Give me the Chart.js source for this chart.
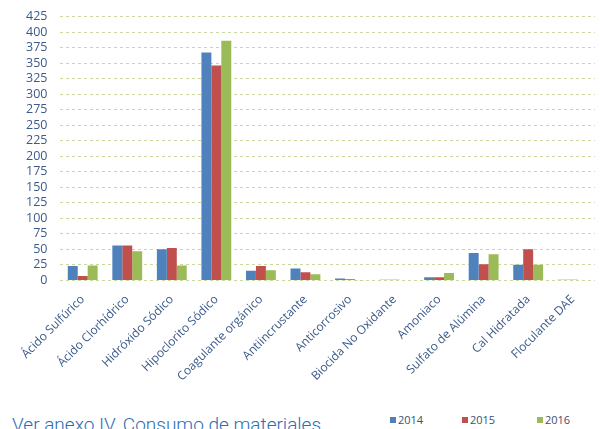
<!DOCTYPE html>
<html>
<head>
<meta charset="utf-8">
<script src="https://cdn.jsdelivr.net/npm/chart.js@4"></script>
<style>
  html, body { margin: 0; padding: 0; background: #fff; }
  #wrap { position: relative; width: 600px; height: 429px; overflow: hidden; }
  #box { position: absolute; left: 0; top: -4px; width: 600px; height: 392px; }
  #title { position: absolute; left: 12px; top: 413px; font-family: Roboto, sans-serif; font-weight: 300;
           font-size: 19px; color: #2a6db5; white-space: nowrap; }
  #legend { position: absolute; left: 0; top: 412px; font-family: "Open Sans", sans-serif; font-size: 11px; color: #3d4f6b; }
  #legend span { position: absolute; white-space: nowrap; }
  #legend i { display: inline-block; width: 6px; height: 6px; margin-right: 2px; vertical-align: 1px; }
</style>
</head>
<body>
<div id="wrap">
  <div id="box"><canvas id="myChart"></canvas></div>
  <div id="title">Ver anexo IV. Consumo de materiales</div>
  <div id="legend"></div>
</div>
<script>
var categories = ['Ácido Sulfúrico', 'Ácido Clorhídrico', 'Hidróxido Sódico', 'Hipoclorito Sódico',
  'Coagulante orgánico', 'Antiincrustante', 'Anticorrosivo', 'Biocida No Oxidante', 'Amoniaco',
  'Sulfato de Alúmina', 'Cal Hidratada', 'Floculante DAE'];
var years = ['2014', '2015', '2016'];
var values2014 = [23, 56, 50, 367, 15.5, 19, 3, 1, 5, 44, 25, 1];
var values2015 = [7, 56, 52, 346, 23, 13, 2, 1, 5, 26, 50, 1];
var values2016 = [24, 47, 24, 386, 16.5, 10, 0.4, 0.5, 12, 42, 25, 0.5];
var colors = ['#4f81bd', '#c0504d', '#9bbb59'];

var legendLeft = [390, 462, 537];
var legend = document.getElementById('legend');
years.forEach(function (y, i) {
  var s = document.createElement('span');
  s.style.left = legendLeft[i] + 'px';
  s.innerHTML = '<i style="background:' + colors[i] + '"></i>' + y;
  legend.appendChild(s);
});

var ctx = document.getElementById('myChart').getContext('2d');
var chart = new Chart(ctx, {
    type: 'bar',
    data: {
        labels: categories,
        datasets: [
            { label: years[0], backgroundColor: colors[0], data: values2014 },
            { label: years[1], backgroundColor: colors[1], data: values2015 },
            { label: years[2], backgroundColor: colors[2], data: values2016 }
        ]
    },
    options: {
        responsive: true,
        maintainAspectRatio: false,
        animation: false,
        layout: { padding: { top: 2, right: 5, left: 13, bottom: 0 } },
        plugins: { legend: { display: false }, tooltip: { enabled: false } },
        datasets: { bar: { categoryPercentage: 0.67, barPercentage: 1.0 } },
        scales: {
            x: {
                grid: { display: false },
                border: { display: false },
                ticks: {
                    color: '#3b5a8a', font: { family: 'Open Sans', size: 12 },
                    maxRotation: 45, minRotation: 45, padding: 4
                }
            },
            y: {
                min: 0, max: 425,
                // in v4 the grid lines take their dash from border.dash
                border: { display: false, dash: [3, 3] },
                grid: { color: '#c9d89e', drawTicks: false },
                ticks: {
                    stepSize: 25, autoSkip: false, color: '#3b5a8a', padding: 13,
                    font: { family: 'Open Sans', size: 12.5 }
                }
            }
        }
    }
});
</script>
</body>
</html>
